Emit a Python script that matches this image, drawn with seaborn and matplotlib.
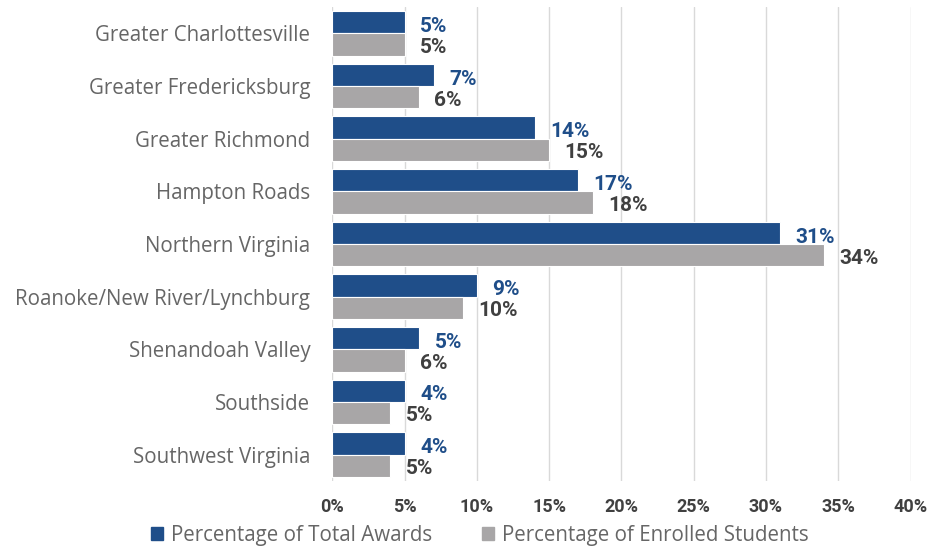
import pandas as pd
import seaborn as sns
import matplotlib.pyplot as plt
from matplotlib.ticker import PercentFormatter
from matplotlib.patches import Patch

# 지역별 데이터 (막대 길이는 그림에서 읽은 값)
regions = ["Greater Charlottesville", "Greater Fredericksburg", "Greater Richmond",
           "Hampton Roads", "Northern Virginia", "Roanoke/New River/Lynchburg",
           "Shenandoah Valley", "Southside", "Southwest Virginia"]
awards = [5, 7, 14, 17, 31, 10, 6, 5, 5]
enrolled = [5, 6, 15, 18, 34, 9, 5, 4, 4]
# 막대 옆에 적힌 라벨 (원본 그대로)
awards_labels = ["5%", "7%", "14%", "17%", "31%", "9%", "5%", "4%", "4%"]
enrolled_labels = ["5%", "6%", "15%", "18%", "34%", "10%", "6%", "5%", "5%"]
series = ["Percentage of Total Awards", "Percentage of Enrolled Students"]

blue = "#1f4e89"
gray = "#a8a6a7"
num_font = ["Roboto", "DejaVu Sans"]

df = pd.DataFrame({
    "region": regions * 2,
    "value": awards + enrolled,
    "series": [series[0]] * len(regions) + [series[1]] * len(regions),
})

sns.set_style("white")
plt.rcParams['font.family'] = ['Open Sans', 'DejaVu Sans']

fig = plt.figure(figsize=(9.35, 5.5), dpi=100)
ax = fig.add_axes([0.3556, 0.1255, 0.6182, 0.8615])

sns.barplot(data=df, y="region", x="value", hue="series", orient="h",
            palette=[blue, gray], saturation=1, width=0.85, edgecolor="white",
            linewidth=0.8, legend=False, ax=ax)

ax.set_xlim(0, 40)
ax.set_xticks(range(0, 41, 5))
ax.xaxis.set_major_formatter(PercentFormatter(decimals=0))
ax.grid(axis="x", color="#d9d9d9", linewidth=1)
ax.set_axisbelow(True)
for s in ax.spines.values():
    s.set_visible(False)
ax.set_xlabel("")
ax.set_ylabel("")
ax.tick_params(axis="both", length=0)
ax.tick_params(axis="y", pad=16)
ax.tick_params(axis="x", pad=12)
for t in ax.get_yticklabels():
    t.set_fontsize(14.8)
    t.set_color("#666666")
for t in ax.get_xticklabels():
    t.set_fontsize(13)
    t.set_fontweight("bold")
    t.set_color("#404040")
    t.set_family(num_font)

# 데이터 라벨
for cont, labels, col, dy in [(ax.containers[0], awards_labels, blue, -3),
                              (ax.containers[1], enrolled_labels, "#404040", -2)]:
    for bar, lab in zip(cont, labels):
        ax.annotate(lab, (bar.get_width(), bar.get_y() + bar.get_height() / 2),
                    xytext=(11, dy), textcoords="offset points",
                    ha="left", va="center", fontsize=15, fontweight="bold",
                    color=col, family=num_font)

handles = [Patch(color=blue, label=series[0]), Patch(color=gray, label=series[1])]
fig.legend(handles=handles, loc="center", bbox_to_anchor=(0.513, 0.027), ncol=2,
           frameon=False, fontsize=14.8, labelcolor="#666666",
           handlelength=0.6, handleheight=0.6, handletextpad=0.4, columnspacing=2.4)

plt.savefig("out.png", dpi=100)
